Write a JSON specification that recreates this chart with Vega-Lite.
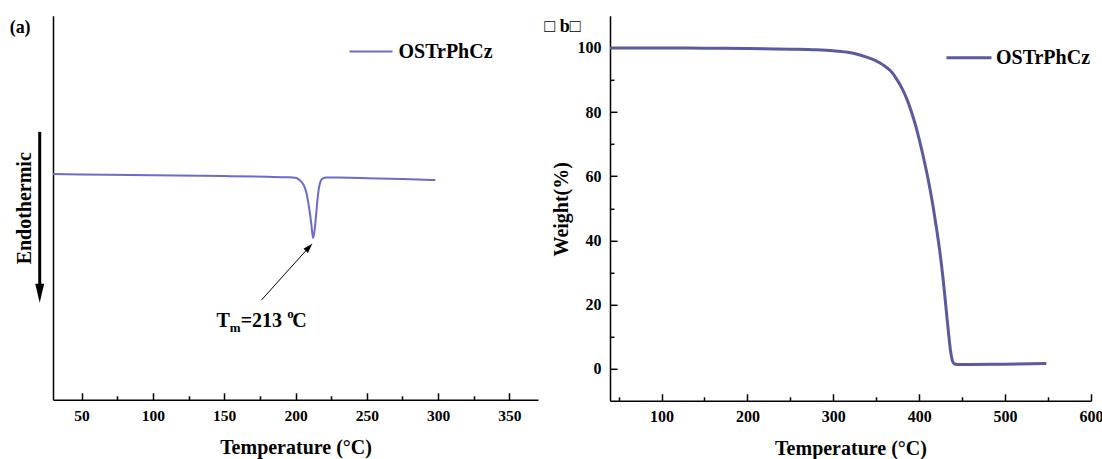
{
  "$schema": "https://vega.github.io/schema/vega-lite/v6.json",
  "background": "white",
  "padding": {"left": 9, "top": 15.8, "right": 0, "bottom": 0},
  "spacing": 6,
  "config": {
    "view": {"stroke": null},
    "font": "Liberation Serif",
    "axis": {
      "grid": false,
      "domainColor": "black",
      "domainWidth": 1.5,
      "tickColor": "black",
      "tickWidth": 1.5,
      "labelFont": "Liberation Serif",
      "labelFontWeight": "bold",
      "labelColor": "black",
      "labelFlush": false,
      "labelOverlap": false,
      "titleFont": "Liberation Serif",
      "titleFontWeight": "bold",
      "titleFontSize": 20,
      "titleColor": "black"
    },
    "legend": {
      "labelFont": "Liberation Serif",
      "labelFontWeight": "bold",
      "labelFontSize": 20,
      "labelColor": "black",
      "padding": 0,
      "labelOffset": 5
    }
  },
  "datasets": {
    "dsc": [
      {"T": 30, "hf": -1.298, "sample": "OSTrPhCz"},
      {"T": 50, "hf": -1.304, "sample": "OSTrPhCz"},
      {"T": 100, "hf": -1.321, "sample": "OSTrPhCz"},
      {"T": 150, "hf": -1.340, "sample": "OSTrPhCz"},
      {"T": 180, "hf": -1.354, "sample": "OSTrPhCz"},
      {"T": 195, "hf": -1.363, "sample": "OSTrPhCz"},
      {"T": 200, "hf": -1.375, "sample": "OSTrPhCz"},
      {"T": 203, "hf": -1.427, "sample": "OSTrPhCz"},
      {"T": 205.3, "hf": -1.506, "sample": "OSTrPhCz"},
      {"T": 207.6, "hf": -1.681, "sample": "OSTrPhCz"},
      {"T": 209.5, "hf": -1.994, "sample": "OSTrPhCz"},
      {"T": 211.1, "hf": -2.340, "sample": "OSTrPhCz"},
      {"T": 212.3, "hf": -2.631, "sample": "OSTrPhCz"},
      {"T": 213.5, "hf": -2.438, "sample": "OSTrPhCz"},
      {"T": 214.7, "hf": -2.063, "sample": "OSTrPhCz"},
      {"T": 215.8, "hf": -1.715, "sample": "OSTrPhCz"},
      {"T": 217, "hf": -1.506, "sample": "OSTrPhCz"},
      {"T": 218.9, "hf": -1.390, "sample": "OSTrPhCz"},
      {"T": 221.7, "hf": -1.369, "sample": "OSTrPhCz"},
      {"T": 230, "hf": -1.371, "sample": "OSTrPhCz"},
      {"T": 250, "hf": -1.383, "sample": "OSTrPhCz"},
      {"T": 275, "hf": -1.402, "sample": "OSTrPhCz"},
      {"T": 298, "hf": -1.423, "sample": "OSTrPhCz"}
    ],
    "tga": [
      {"T": 40, "W": 100.0, "sample": "OSTrPhCz"},
      {"T": 100, "W": 100.0, "sample": "OSTrPhCz"},
      {"T": 150, "W": 99.9, "sample": "OSTrPhCz"},
      {"T": 200, "W": 99.8, "sample": "OSTrPhCz"},
      {"T": 250, "W": 99.6, "sample": "OSTrPhCz"},
      {"T": 280, "W": 99.4, "sample": "OSTrPhCz"},
      {"T": 300, "W": 99.1, "sample": "OSTrPhCz"},
      {"T": 315, "W": 98.7, "sample": "OSTrPhCz"},
      {"T": 327, "W": 98.1, "sample": "OSTrPhCz"},
      {"T": 338, "W": 97.2, "sample": "OSTrPhCz"},
      {"T": 348, "W": 96.2, "sample": "OSTrPhCz"},
      {"T": 358, "W": 94.7, "sample": "OSTrPhCz"},
      {"T": 366, "W": 93.0, "sample": "OSTrPhCz"},
      {"T": 373, "W": 90.6, "sample": "OSTrPhCz"},
      {"T": 380, "W": 87.4, "sample": "OSTrPhCz"},
      {"T": 386, "W": 83.8, "sample": "OSTrPhCz"},
      {"T": 391, "W": 80.0, "sample": "OSTrPhCz"},
      {"T": 396, "W": 75.6, "sample": "OSTrPhCz"},
      {"T": 401, "W": 70.4, "sample": "OSTrPhCz"},
      {"T": 406, "W": 64.6, "sample": "OSTrPhCz"},
      {"T": 411, "W": 58.2, "sample": "OSTrPhCz"},
      {"T": 416, "W": 50.8, "sample": "OSTrPhCz"},
      {"T": 420, "W": 44.0, "sample": "OSTrPhCz"},
      {"T": 424, "W": 36.5, "sample": "OSTrPhCz"},
      {"T": 428, "W": 27.5, "sample": "OSTrPhCz"},
      {"T": 431, "W": 19.5, "sample": "OSTrPhCz"},
      {"T": 434, "W": 11.5, "sample": "OSTrPhCz"},
      {"T": 436.5, "W": 5.5, "sample": "OSTrPhCz"},
      {"T": 438.5, "W": 2.6, "sample": "OSTrPhCz"},
      {"T": 440.5, "W": 1.6, "sample": "OSTrPhCz"},
      {"T": 444, "W": 1.35, "sample": "OSTrPhCz"},
      {"T": 460, "W": 1.3, "sample": "OSTrPhCz"},
      {"T": 500, "W": 1.4, "sample": "OSTrPhCz"},
      {"T": 548, "W": 1.6, "sample": "OSTrPhCz"}
    ],
    "tmBig": [
      {"x": 144.55, "y": -4.479, "t": "T"},
      {"x": 161.58, "y": -4.479, "t": "=213"},
      {"x": 197.69, "y": -4.479, "t": "C"}
    ],
    "tmSmall": [
      {"x": 153.87, "y": -4.583, "t": "m"},
      {"x": 194.18, "y": -4.292, "t": "o"}
    ],
    "tmArrow": [{"x": 176.1, "y": -3.923, "x2": 209.5, "y2": -2.82}],
    "tmHead": [{"x": 209.5, "y": -2.82}],
    "endoArrow": [{"x": 20.68, "y": -0.4167, "x2": 20.68, "y2": -3.729}],
    "endoHead": [{"x": 20.68, "y": -3.781}],
    "labelA": [{"x": -0.4, "y": 1.646, "t": "(a)"}],
    "labelB": [{"x": -36.5, "y": 104.9, "t": "□ b□"}]
  },
  "resolve": {
    "scale": {"x": "independent", "y": "independent", "color": "independent"},
    "legend": {"color": "independent"}
  },
  "hconcat": [
    {
      "width": 485,
      "height": 384,
      "resolve": {"axis": {"x": "independent", "y": "independent"}},
      "layer": [
        {
          "data": {"name": "dsc"},
          "mark": {"type": "line", "strokeWidth": 2, "interpolate": "monotone"},
          "encoding": {
            "x": {
              "field": "T", "type": "quantitative",
              "scale": {"domain": [30, 370], "nice": false, "zero": false},
              "axis": {
                "orient": "bottom",
                "values": [50, 100, 150, 200, 250, 300, 350],
                "tickSize": -7,
                "labelPadding": 28,
                "labelBaseline": "alphabetic",
                "labelFontSize": 15.5,
                "title": "Temperature (°C)",
                "titleY": 54,
                "titleBaseline": "alphabetic"
              }
            },
            "y": {
              "field": "hf", "type": "quantitative",
              "scale": {"domain": [-6, 2], "nice": false, "zero": false},
              "axis": {
                "orient": "left",
                "labels": false,
                "ticks": false,
                "title": "Endothermic",
                "titleAngle": -90,
                "titleX": -22.3,
                "titleY": 192,
                "titleAlign": "center",
                "titleBaseline": "alphabetic"
              }
            },
            "color": {
              "field": "sample", "type": "nominal",
              "scale": {"range": ["#6b6bcc"]},
              "legend": {
                "orient": "none", "legendX": 295.5, "legendY": 13.3,
                "title": null, "symbolType": "stroke",
                "symbolSize": 1849, "symbolStrokeWidth": 2
              }
            }
          }
        },
        {
          "data": {"name": "dsc"},
          "mark": {"type": "point", "opacity": 0},
          "encoding": {
            "x": {
              "field": "T", "type": "quantitative",
              "axis": {
                "orient": "bottom",
                "values": [75, 125, 175, 225, 275, 325],
                "tickSize": -4,
                "labels": false,
                "domain": false,
                "title": null
              }
            },
            "y": {"field": "hf", "type": "quantitative", "axis": null}
          }
        },
        {
          "data": {"name": "tmArrow"},
          "mark": {"type": "rule", "color": "black", "strokeWidth": 1},
          "encoding": {
            "x": {"field": "x", "type": "quantitative", "axis": null},
            "y": {"field": "y", "type": "quantitative", "axis": null},
            "x2": {"field": "x2"},
            "y2": {"field": "y2"}
          }
        },
        {
          "data": {"name": "tmHead"},
          "mark": {"type": "point", "filled": true, "color": "black", "opacity": 1, "shape": "M-0.6,1L0.6,1L0,-1Z", "size": 100, "angle": 42},
          "encoding": {
            "x": {"field": "x", "type": "quantitative", "axis": null},
            "y": {"field": "y", "type": "quantitative", "axis": null}
          }
        },
        {
          "data": {"name": "endoArrow"},
          "mark": {"type": "rule", "color": "black", "strokeWidth": 3},
          "encoding": {
            "x": {"field": "x", "type": "quantitative", "axis": null},
            "y": {"field": "y", "type": "quantitative", "axis": null},
            "x2": {"field": "x2"},
            "y2": {"field": "y2"}
          }
        },
        {
          "data": {"name": "endoHead"},
          "mark": {"type": "point", "filled": true, "color": "black", "opacity": 1, "shape": "M-0.47,-1L0.47,-1L0,1Z", "size": 361},
          "encoding": {
            "x": {"field": "x", "type": "quantitative", "axis": null},
            "y": {"field": "y", "type": "quantitative", "axis": null}
          }
        },
        {
          "data": {"name": "tmBig"},
          "mark": {"type": "text", "font": "Liberation Serif", "fontWeight": "bold", "fontSize": 20, "color": "black", "align": "left", "baseline": "alphabetic"},
          "encoding": {
            "x": {"field": "x", "type": "quantitative", "axis": null},
            "y": {"field": "y", "type": "quantitative", "axis": null},
            "text": {"field": "t"}
          }
        },
        {
          "data": {"name": "tmSmall"},
          "mark": {"type": "text", "font": "Liberation Serif", "fontWeight": "bold", "fontSize": 13, "color": "black", "align": "left", "baseline": "alphabetic"},
          "encoding": {
            "x": {"field": "x", "type": "quantitative", "axis": null},
            "y": {"field": "y", "type": "quantitative", "axis": null},
            "text": {"field": "t"}
          }
        },
        {
          "data": {"name": "labelA"},
          "mark": {"type": "text", "font": "Liberation Serif", "fontWeight": "bold", "fontSize": 18, "color": "black", "align": "left", "baseline": "alphabetic"},
          "encoding": {
            "x": {"field": "x", "type": "quantitative", "axis": null},
            "y": {"field": "y", "type": "quantitative", "axis": null},
            "text": {"field": "t"}
          }
        }
      ]
    },
    {
      "width": 481,
      "height": 385,
      "resolve": {"axis": {"x": "independent", "y": "independent"}},
      "layer": [
        {
          "data": {"name": "tga"},
          "mark": {"type": "line", "strokeWidth": 3, "interpolate": "monotone"},
          "encoding": {
            "x": {
              "field": "T", "type": "quantitative",
              "scale": {"domain": [40, 600], "nice": false, "zero": false},
              "axis": {
                "orient": "bottom",
                "values": [100, 200, 300, 400, 500, 600],
                "tickSize": -7,
                "labelPadding": 28,
                "labelBaseline": "alphabetic",
                "labelFontSize": 16,
                "title": "Temperature (°C)",
                "titleY": 54,
                "titleBaseline": "alphabetic"
              }
            },
            "y": {
              "field": "W", "type": "quantitative",
              "scale": {"domain": [-10, 110], "nice": false, "zero": false},
              "axis": {
                "orient": "left",
                "values": [0, 20, 40, 60, 80, 100],
                "tickSize": -7,
                "labelPadding": 16,
                "labelFontSize": 16,
                "title": "Weight(%)",
                "titleAngle": -90,
                "titleX": -42.2,
                "titleY": 193,
                "titleAlign": "center",
                "titleBaseline": "alphabetic"
              }
            },
            "color": {
              "field": "sample", "type": "nominal",
              "scale": {"range": ["#5a5a9c"]},
              "legend": {
                "orient": "none", "legendX": 335, "legendY": 18,
                "title": null, "symbolType": "stroke",
                "symbolSize": 2025, "symbolStrokeWidth": 3,
                "labelOffset": 3
              }
            }
          }
        },
        {
          "data": {"name": "tga"},
          "mark": {"type": "point", "opacity": 0},
          "encoding": {
            "x": {
              "field": "T", "type": "quantitative",
              "axis": {
                "orient": "bottom",
                "values": [50, 150, 250, 350, 450, 550],
                "tickSize": -4,
                "labels": false,
                "domain": false,
                "title": null
              }
            },
            "y": {
              "field": "W", "type": "quantitative",
              "axis": {
                "orient": "left",
                "values": [10, 30, 50, 70, 90],
                "tickSize": -4,
                "labels": false,
                "domain": false,
                "title": null
              }
            }
          }
        },
        {
          "data": {"name": "labelB"},
          "mark": {"type": "text", "font": "Liberation Serif", "fontWeight": "bold", "fontSize": 18, "color": "black", "align": "left", "baseline": "alphabetic"},
          "encoding": {
            "x": {"field": "x", "type": "quantitative", "axis": null},
            "y": {"field": "y", "type": "quantitative", "axis": null},
            "text": {"field": "t"}
          }
        }
      ]
    }
  ]
}
